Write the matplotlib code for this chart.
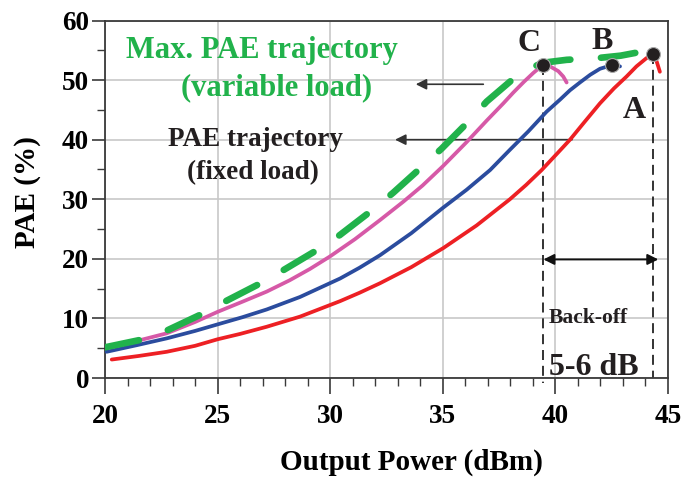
import numpy as np
import matplotlib.pyplot as plt
from matplotlib.ticker import MultipleLocator

plt.rcParams['font.family'] = 'Liberation Serif'
plt.rcParams['font.weight'] = 'bold'

# PAE curves (Output power in dBm, PAE in %)
red_x = [20.3, 21.5, 22.74, 24.0, 25.0, 26.0, 27.18, 28.66, 30.44, 31.3, 32.21,
         33.6, 35.02, 36.5, 37.98, 38.7, 39.39, 40.06, 40.65, 41.3, 41.98, 42.6,
         43.16, 43.6, 44.05, 44.35, 44.5, 44.64]
red_y = [3.1, 3.7, 4.4, 5.4, 6.5, 7.4, 8.6, 10.3, 12.9, 14.3, 15.9,
         18.6, 21.8, 25.6, 30.0, 32.4, 34.9, 37.6, 40.0, 43.0, 46.1, 48.6,
         50.6, 52.3, 53.7, 54.2, 53.1, 51.4]

blue_x = [20.07, 21.4, 22.74, 24.0, 25.0, 26.1, 27.18, 28.66, 30.44, 31.3, 32.21,
          33.6, 35.02, 36.06, 37.1, 37.98, 38.8, 39.61, 40.2, 40.65, 41.09, 41.55,
          41.98, 42.5, 42.87]
blue_y = [4.4, 5.5, 6.65, 7.9, 9.0, 10.2, 11.5, 13.6, 16.7, 18.5, 20.6,
          24.3, 28.6, 31.6, 34.9, 38.3, 41.4, 44.7, 46.7, 48.3, 49.6, 50.9,
          51.9, 52.5, 52.3]

pink_x = [20.07, 21.4, 22.74, 24.0, 25.0, 26.1, 27.18, 28.2, 29.1, 29.99, 31.1,
          32.21, 33.25, 34.1, 35.02, 36.06, 36.95, 37.69, 38.13, 38.6, 39.02,
          39.43, 39.76, 40.13, 40.35, 40.5]
pink_y = [5.0, 6.2, 7.5, 9.4, 11.1, 12.8, 14.5, 16.4, 18.3, 20.4, 23.3,
          26.5, 29.6, 32.3, 35.6, 39.6, 43.2, 46.1, 47.9, 49.7, 51.2,
          52.5, 52.3, 51.5, 50.6, 49.6]

green_x = [20.0, 21.7, 22.8, 24.37, 25.4, 26.96, 27.92, 29.47, 30.43, 31.84, 32.8,
           34.06, 34.95, 36.13, 36.95, 38.28, 38.9, 39.43, 40.5, 41.76, 42.9, 43.6,
           44.05, 44.27]
green_y = [5.15, 6.5, 8.06, 10.86, 12.97, 16.0, 18.1, 21.6, 24.0, 28.1, 31.1,
           35.4, 38.5, 43.0, 46.4, 50.7, 52.0, 52.9, 53.4, 53.65, 54.1, 54.6,
           55.3, 56.2]

# peak PAE points
peak_x = [39.43, 42.5, 44.35]
peak_y = [52.5, 52.5, 54.3]
peak_names = ['C', 'B', 'A']

fig = plt.figure(figsize=(6.88, 4.78), dpi=100)
ax = fig.add_axes([0.1526, 0.2092, 0.8183, 0.7479])

ax.plot(red_x, red_y, color='#ED2024', lw=2.7, solid_capstyle='round',
        solid_joinstyle='round', zorder=3)
ax.plot(blue_x, blue_y, color='#2B4C9E', lw=2.7, solid_capstyle='round',
        solid_joinstyle='round', zorder=3)
ax.plot(pink_x, pink_y, color='#D659A7', lw=2.7, solid_capstyle='round',
        solid_joinstyle='round', zorder=3)
ax.plot(green_x, green_y, color='#21B24B', lw=4.8, dashes=(5.2, 4.6),
        dash_capstyle='round', dash_joinstyle='round', zorder=4)

# dashed guides from C and A down to the axis
ax.plot([peak_x[0], peak_x[0]], [peak_y[0], -0.8], color='#111111', lw=1.2,
        dashes=(6, 3.5), clip_on=False, zorder=2)
ax.plot([peak_x[2], peak_x[2]], [peak_y[2], 0], color='#111111', lw=1.2,
        dashes=(6, 3.5), zorder=2)

ax.plot(peak_x, peak_y, 'o', ms=10, mfc='#231F20', mec='#aaaaaa', mew=0.8, zorder=6)
ax.text(38.83, 54.8, peak_names[0], fontsize=23, ha='center', va='baseline', color='#231F20')
ax.text(42.07, 55.3, peak_names[1], fontsize=23, ha='center', va='baseline', color='#231F20')
ax.text(43.49, 43.6, peak_names[2], fontsize=23, ha='center', va='baseline', color='#231F20')

# labels with arrows
ax.text(26.96, 53.66, 'Max. PAE trajectory', fontsize=22, color='#21B24B',
        ha='center', va='baseline')
ax.text(27.62, 47.5, '(variable load)', fontsize=22, color='#21B24B',
        ha='center', va='baseline')
ax.text(26.66, 38.94, 'PAE trajectory', fontsize=19.5, color='#231F20',
        ha='center', va='baseline')
ax.text(26.58, 33.35, '(fixed load)', fontsize=19.5, color='#231F20',
        ha='center', va='baseline')

arrow = dict(arrowstyle='-|>', color='#333333', lw=1.2, mutation_scale=16,
             shrinkA=0, shrinkB=0)
ax.annotate('', xy=(33.8, 49.3), xytext=(36.8, 49.3), arrowprops=arrow, zorder=2)
ax.annotate('', xy=(32.88, 40), xytext=(40.74, 40), arrowprops=arrow, zorder=2)
ax.annotate('', xy=(44.57, 19.9), xytext=(39.47, 19.9),
            arrowprops=dict(arrowstyle='<|-|>', color='#111111', lw=1.4,
                            mutation_scale=16, shrinkA=0, shrinkB=0), zorder=5)

ax.text(39.69, 9.18, 'Back-off', fontsize=15.5, ha='left', va='baseline', color='#231F20')
ax.text(39.72, 0.5, '5-6 dB', fontsize=23, ha='left', va='baseline', color='#231F20')

ax.set_xlim(20, 45)
ax.set_ylim(0, 60)
ax.xaxis.set_major_locator(MultipleLocator(5))
ax.xaxis.set_minor_locator(MultipleLocator(1))
ax.yaxis.set_major_locator(MultipleLocator(10))
ax.yaxis.set_minor_locator(MultipleLocator(5))
ax.grid(True, which='major', color='#c8c8c8', lw=1.2, zorder=0)
ax.set_axisbelow(True)

ax.tick_params(axis='x', which='major', direction='out', length=11.5, width=1.2,
               labelsize=19.5, pad=7, color='#3a3a3a')
ax.tick_params(axis='y', which='major', direction='out', length=9.5, width=1.2,
               labelsize=19.5, pad=2, color='#3a3a3a')
ax.tick_params(which='minor', direction='out', length=5.8, width=1.0, color='#3a3a3a')
for s in ax.spines.values():
    s.set_linewidth(1.3)
    s.set_color('#3a3a3a')

ax.set_xlabel('Output Power (dBm)', fontsize=21, fontweight='bold')
ax.xaxis.label.set_va('center')
ax.xaxis.set_label_coords(0.545, -0.235)
ax.set_ylabel('PAE (%)', fontsize=21, fontweight='bold')
ax.yaxis.label.set_va('center')
ax.yaxis.set_label_coords(-0.1385, 0.519)

fig.savefig('out.png', dpi=100)
